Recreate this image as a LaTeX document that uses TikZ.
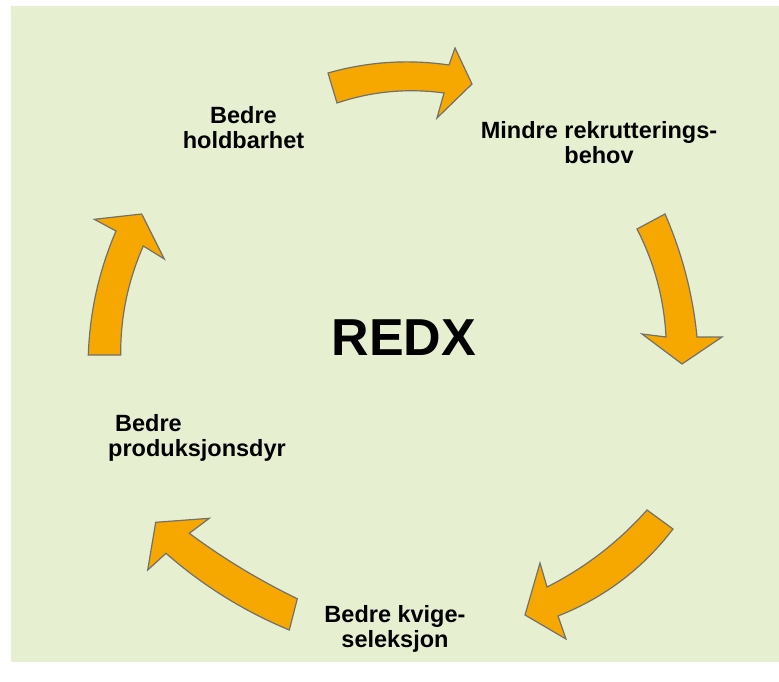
\documentclass[tikz,border=0pt]{standalone}
\usepackage{fontspec}
\setmainfont{Liberation Sans}
\usetikzlibrary{calc}
\definecolor{bg}{HTML}{E6F0D1}
\definecolor{arrowfill}{HTML}{F6A800}
\definecolor{arrowline}{HTML}{707070}
\newcommand\lbltwo[2]{\rule{0pt}{17pt}#1\\#2\rule[-5pt]{0pt}{5pt}}
% quadratic-style smooth edge: \qedge{start}{quad control}{end}
\newcommand\qedge[3]{.. controls ($(#1)!2/3!(#2)$) and ($(#3)!2/3!(#2)$) .. (#3)}
\begin{document}
\begin{tikzpicture}[x=1pt,y=-1pt,
  blockarrow/.style={fill=arrowfill,draw=arrowline,line width=1.2pt,line join=miter},
  lbl/.style={font=\fontsize{23.5}{25}\selectfont\bfseries, align=center, inner sep=0pt, text=black}]
\useasboundingbox (0,0) rectangle (779,682);
\fill[bg] (11,6) rectangle (779,662);

% arrows
\draw[blockarrow] (328,73) \qedge{328,73}{387.6,56}{449,65} -- (455,48) -- (472,84) -- (437,118) -- (444,93) \qedge{444,93}{389.3,85.5}{337,103} -- cycle;
\draw[blockarrow] (637,229) -- (665,214) \qedge{665,214}{690.7,273}{697,337} -- (722,337) -- (682,364) -- (642,334) -- (666,337) \qedge{666,337}{663.1,279.9}{637,229} -- cycle;
\draw[blockarrow] (647,510) -- (673,529) \qedge{673,529}{627.6,588.5}{558,616} -- (566,639) -- (525,615) -- (540,563) -- (547,587) \qedge{547,587}{604.3,558}{647,510} -- cycle;
\draw[blockarrow] (297.3,598.7) \qedge{297.3,598.7}{240.2,571.1}{189.3,533.3} -- (209.3,518.3) -- (155.7,522.3) -- (147.7,570) -- (166,553.3) \qedge{166,553.3}{221.4,601.9}{289.3,630} -- cycle;
\draw[blockarrow] (88.3,355) \qedge{88.3,355}{90.5,290.4}{116,231} -- (94.3,219.3) -- (141.7,214) -- (164.3,259) -- (143.3,246) \qedge{143.3,246}{120.3,298.1}{120.7,355} -- cycle;

% labels
\node[lbl] (hold) at (243.5,129.5) {\lbltwo{Bedre}{holdbarhet}};
\node[lbl] (mindre) at (599,144.5) {\lbltwo{Mindre rekrutterings-}{behov}};
\node[font=\fontsize{52}{60}\selectfont\bfseries, inner sep=0pt, anchor=base] (redx) at (404,355) {REDX};
\node[lbl, align=left, anchor=west] (prod) at (108,437.5) {\lbltwo{\hspace*{7pt}Bedre}{produksjonsdyr}};
\node[lbl] (kvige) at (395,628.5) {\lbltwo{Bedre kvige-}{seleksjon}};
\end{tikzpicture}
\end{document}
